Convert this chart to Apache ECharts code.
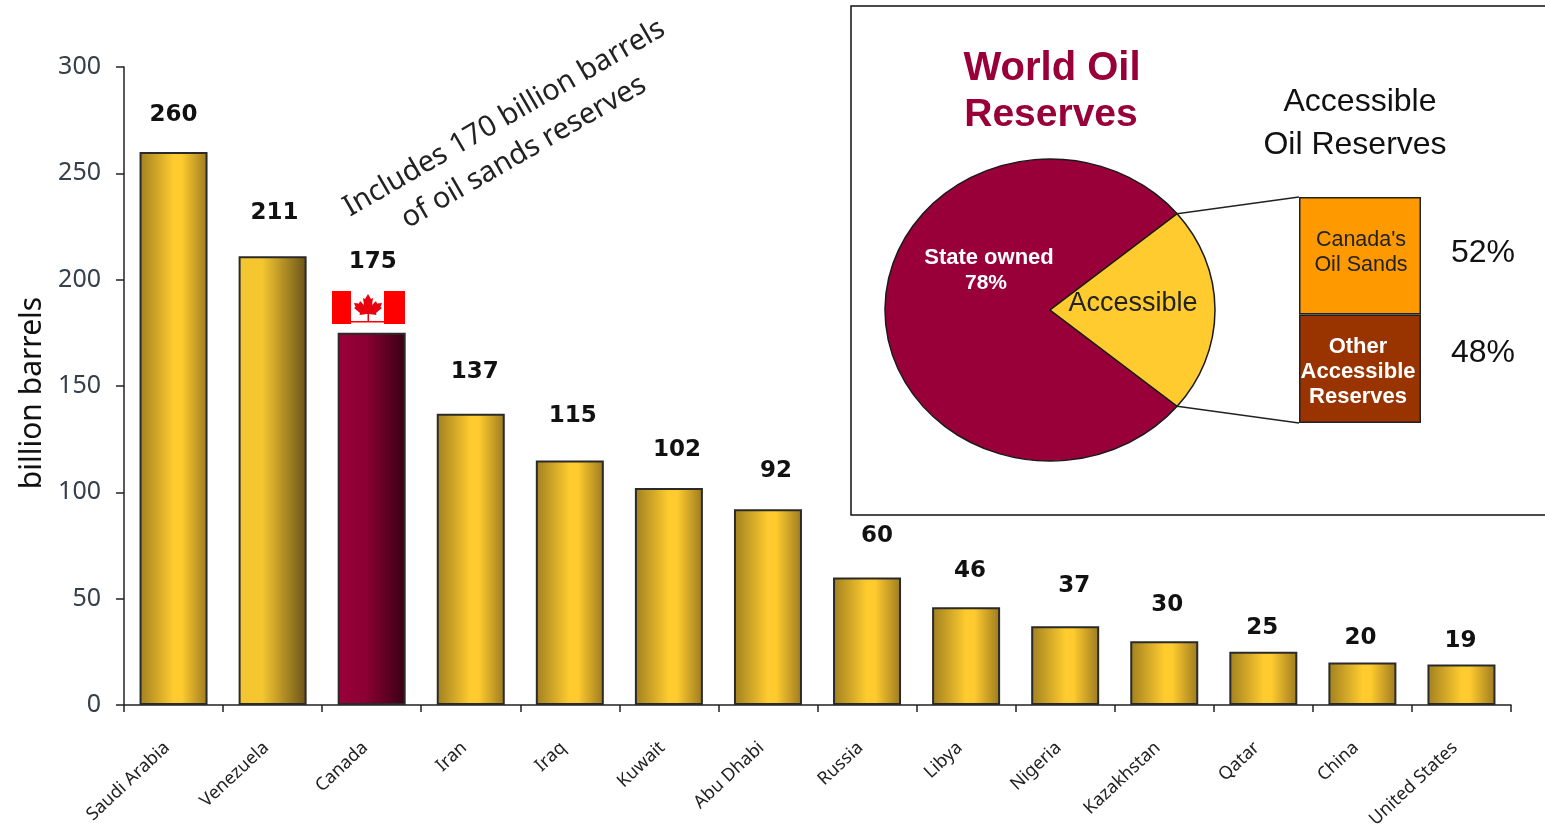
<!DOCTYPE html>
<html>
<head>
<meta charset="utf-8">
<title>World Oil Reserves</title>
<script src="https://cdn.jsdelivr.net/npm/echarts@6/dist/echarts.min.js"></script>
<style>
  html, body { margin: 0; padding: 0; background: #fff; }
  #chart { width: 1545px; height: 832px; }
</style>
</head>
<body>
<div id="chart"></div>
<script>
// Proven reserves by country, billion barrels
const countries = ['Saudi Arabia', 'Venezuela', 'Canada', 'Iran', 'Iraq', 'Kuwait', 'Abu Dhabi',
  'Russia', 'Libya', 'Nigeria', 'Kazakhstan', 'Qatar', 'China', 'United States'];
const reserves = [260, 211, 175, 137, 115, 102, 92, 60, 46, 37, 30, 25, 20, 19];

// World reserves by ownership, percent
const pieNames = ['State owned', 'Accessible'];
const pieShares = [78, 22];

// Split of the accessible slice, percent
const accessibleNames = ["Canada's\nOil Sands", 'Other\nAccessible\nReserves'];
const accessibleShares = [52, 48];

// Value-label placement relative to each bar: height above it and sideways shift
const labelRise = [37, 43, 71, 42, 44, 38, 38, 41, 36, 40, 36, 24, 24, 24];
const labelShift = [0, 2, 1, 4, 3, 8, 8, 10, 4, 9, 3, -1, -2, -1];

const SANS = '"Noto Sans", sans-serif';
const ARIAL = '"Liberation Sans", Arial, sans-serif';
const MAROON = '#99003a';
const GOLD = '#ffcb2e';
const INK = '#111';
const PIE = { cx: 1050, cy: 310, rx: 165, ry: 151 };
const STACK = { left: 1299, top: 197, width: 122, height: 226 };

function sideFade(stops) {
  return {
    type: 'linear', x: 0, y: 0, x2: 1, y2: 0,
    colorStops: stops.map(s => ({ offset: s[0], color: s[1] }))
  };
}
const goldFill = sideFade([[0, '#a08020'], [0.5, GOLD], [0.62, GOLD], [1, '#9c7a20']]);
const venezuelaFill = sideFade([[0, '#f5c630'], [0.35, '#f5c630'], [1, '#6a5318']]);
const canadaFill = sideFade([[0, MAROON], [0.4, '#8c0032'], [1, '#380014']]);

function barFill(name) {
  if (name === 'Canada') return canadaFill;
  if (name === 'Venezuela') return venezuelaFill;
  return goldFill;
}

const halfWedge = pieShares[1] / 100 * Math.PI;

// Pie drawn as a squashed sector so it reads as a slightly flattened disc
function renderSlice(params, api) {
  const isAccessible = params.dataIndex === 1;
  const start = isAccessible ? -halfWedge : halfWedge;
  const end = start + api.value(0) / 100 * Math.PI * 2;
  return {
    type: 'sector',
    x: PIE.cx, y: PIE.cy,
    scaleY: PIE.ry / PIE.rx,
    shape: { cx: 0, cy: 0, r0: 0, r: PIE.rx, startAngle: start, endAngle: end, clockwise: true },
    style: { fill: isAccessible ? GOLD : MAROON, stroke: '#1a1a1a', lineWidth: 1.5 }
  };
}

// Maple leaf outline, right half; mirrored for the left side
const leafRight = [[0, 0], [3, 5], [5, 4], [4, 11], [8, 7], [9, 9.5], [14, 9], [12.5, 13], [14, 14], [8, 19], [8.5, 21], [1, 20]];
const leafPoints = leafRight.concat(leafRight.slice(1).reverse().map(p => [-p[0], p[1]]));

const edgeX = Math.cos(halfWedge) * PIE.rx;
const edgeY = Math.sin(halfWedge) * PIE.ry;

function plainText(text, x, y, font, size, color, weight) {
  return {
    type: 'text', x, y, z: 20,
    style: {
      text, fill: color, font: (weight ? weight + ' ' : '') + size + 'px ' + font,
      textAlign: 'center', textVerticalAlign: 'middle'
    }
  };
}

const option = {
  animation: false,
  backgroundColor: '#fff',
  grid: [
    { left: 124, top: 67, width: 1387, height: 638 },
    { left: STACK.left, top: STACK.top, width: STACK.width, height: STACK.height }
  ],
  xAxis: [
    {
      type: 'category', data: countries, gridIndex: 0,
      axisLine: { lineStyle: { color: '#222', width: 1.5 } },
      axisTick: { show: true, length: 7, alignWithLabel: false, lineStyle: { color: '#222', width: 1.5 } },
      axisLabel: { interval: 0, rotate: 43, margin: 34, padding: [0, 9, 0, 0], color: '#222', fontFamily: SANS, fontSize: 18 }
    },
    { type: 'category', data: ['Accessible'], gridIndex: 1, show: false }
  ],
  yAxis: [
    {
      type: 'value', min: 0, max: 300, interval: 50, gridIndex: 0,
      splitLine: { show: false },
      axisLine: { show: true, lineStyle: { color: '#222', width: 1.5 } },
      axisTick: { show: true, length: 8, lineStyle: { color: '#222', width: 1.5 } },
      axisLabel: { margin: 23, padding: [8, 0, 0, 0], color: '#36404a', fontFamily: SANS, fontSize: 25 }
    },
    { type: 'value', min: 0, max: 100, gridIndex: 1, show: false }
  ],
  series: [
    {
      type: 'bar', xAxisIndex: 0, yAxisIndex: 0, barWidth: 68,
      data: reserves.map((v, i) => ({
        value: v,
        itemStyle: { color: barFill(countries[i]), borderColor: '#2a2a2a', borderWidth: 2 },
        label: {
          show: true, position: 'top', distance: 0,
          offset: [labelShift[i], 12 - labelRise[i]],
          formatter: '{c}', color: INK, fontFamily: '"DejaVu Sans", sans-serif',
          fontWeight: 'bold', fontSize: 23, lineHeight: 24
        }
      }))
    },
    {
      type: 'custom', coordinateSystem: 'none', renderItem: renderSlice,
      data: pieShares.map((v, i) => ({ name: pieNames[i], value: [v] })), z: 5
    },
    {
      type: 'bar', xAxisIndex: 1, yAxisIndex: 1, stack: 'accessible', barWidth: '100%',
      data: [accessibleShares[1]],
      itemStyle: { color: '#993300', borderColor: '#222', borderWidth: 1.5 },
      label: {
        show: true, position: 'inside', offset: [-2, 3], formatter: accessibleNames[1],
        color: '#fff', fontFamily: ARIAL, fontWeight: 'bold', fontSize: 22, lineHeight: 25
      }
    },
    {
      type: 'bar', xAxisIndex: 1, yAxisIndex: 1, stack: 'accessible', barWidth: '100%',
      data: [accessibleShares[0]],
      itemStyle: { color: '#ff9900', borderColor: '#222', borderWidth: 1.5 },
      label: {
        show: true, position: 'inside', offset: [1, -3], formatter: accessibleNames[0],
        color: '#222', fontFamily: ARIAL, fontSize: 21.5, lineHeight: 25
      }
    }
  ],
  graphic: { elements: [
    // Inset frame runs off the right edge of the page
    { type: 'rect', z: -10, shape: { x: 851, y: 6, width: 720, height: 509 },
      style: { fill: '#fff', stroke: '#111', lineWidth: 1.5 } },

    // Lines from the accessible slice out to the stacked column
    { type: 'line', z: 6, shape: { x1: PIE.cx + edgeX, y1: PIE.cy - edgeY, x2: STACK.left, y2: STACK.top },
      style: { stroke: '#222', lineWidth: 1.4 } },
    { type: 'line', z: 6, shape: { x1: PIE.cx + edgeX, y1: PIE.cy + edgeY, x2: STACK.left, y2: STACK.top + STACK.height },
      style: { stroke: '#222', lineWidth: 1.4 } },

    // Axis title reads bottom to top
    Object.assign(plainText('billion barrels', 32, 393, SANS, 30, INK), { rotation: Math.PI / 2 }),

    { type: 'text', x: 514, y: 135, z: 20, rotation: 30 * Math.PI / 180,
      style: { text: 'Includes 170 billion barrels\nof oil sands reserves', fill: '#222',
        font: '29px ' + SANS, textAlign: 'center', textVerticalAlign: 'middle', lineHeight: 39 } },

    // Canadian flag above the Canada column
    { type: 'group', x: 332, y: 291, z: 15, children: [
      { type: 'rect', shape: { x: 0, y: 0, width: 73, height: 33 }, style: { fill: '#fff' } },
      { type: 'rect', shape: { x: 0, y: 0, width: 19, height: 33 }, style: { fill: '#ff0000' } },
      { type: 'rect', shape: { x: 52, y: 0, width: 21, height: 33 }, style: { fill: '#ff0000' } },
      { type: 'rect', shape: { x: 19, y: 30, width: 33, height: 1.5 }, style: { fill: '#ff0000' } },
      { type: 'polygon', x: 36, y: 3, shape: { points: leafPoints }, style: { fill: '#e8000f' } },
      { type: 'rect', shape: { x: 35.5, y: 22, width: 1.5, height: 9 }, style: { fill: '#e8000f' } }
    ] },

    plainText('World Oil', 1052, 69, ARIAL, 40, MAROON, 'bold'),
    plainText('Reserves', 1051, 115, ARIAL, 39, MAROON, 'bold'),
    plainText('Accessible', 1360, 102, ARIAL, 32, INK),
    plainText('Oil Reserves', 1355, 145, ARIAL, 32, INK),
    plainText(pieNames[0], 989, 258, ARIAL, 22, '#fff', 'bold'),
    plainText(pieShares[0] + '%', 986, 283, ARIAL, 21, '#fff', 'bold'),
    plainText(pieNames[1], 1133, 304, ARIAL, 27, '#222'),
    plainText(accessibleShares[0] + '%', 1483, 253, ARIAL, 32, INK),
    plainText(accessibleShares[1] + '%', 1483, 353, ARIAL, 32, INK)
  ] }
};

echarts.init(document.getElementById('chart'), null, { renderer: 'canvas' }).setOption(option);
</script>
</body>
</html>
